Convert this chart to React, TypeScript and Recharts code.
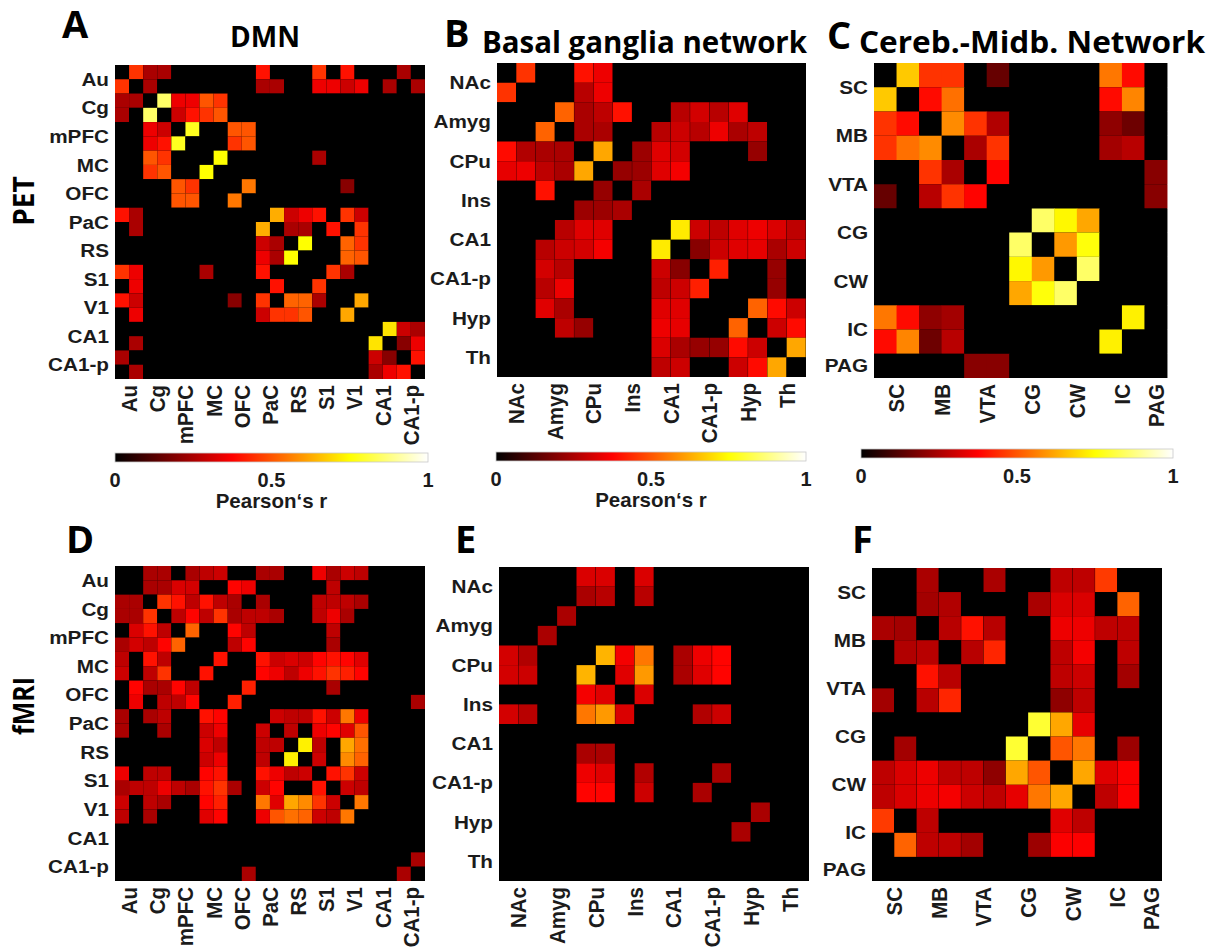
import { BarChart, Bar, Cell, XAxis, YAxis, CartesianGrid } from "recharts"

// Regions of each network. Every region has a left and a right cell, except PAG (midline).
const DMN_REGIONS = ["Au", "Cg", "mPFC", "MC", "OFC", "PaC", "RS", "S1", "V1", "CA1", "CA1-p"]
const DMN_CELLS = [2, 2, 2, 2, 2, 2, 2, 2, 2, 2, 2]
const BG_REGIONS = ["NAc", "Amyg", "CPu", "Ins", "CA1", "CA1-p", "Hyp", "Th"]
const BG_CELLS = [2, 2, 2, 2, 2, 2, 2, 2]
const CM_REGIONS = ["SC", "MB", "VTA", "CG", "CW", "IC", "PAG"]
const CM_CELLS = [2, 2, 2, 2, 2, 2, 1]

const COLORBAR_TICKS = [0, 0.5, 1]

// Pearson's r x 100 (thresholded matrices, 0 = not shown)
const PET_DMN = [
  [0, 45, 25, 25, 0, 0, 0, 0, 0, 0, 40, 0, 0, 0, 45, 0, 40, 0, 0, 0, 25, 0],
  [45, 0, 25, 0, 0, 0, 0, 0, 0, 0, 25, 25, 0, 0, 35, 35, 30, 35, 0, 25, 0, 25],
  [25, 25, 0, 85, 35, 35, 50, 45, 0, 0, 0, 0, 0, 0, 0, 0, 0, 0, 0, 0, 0, 0],
  [25, 0, 85, 0, 30, 40, 45, 50, 0, 0, 0, 0, 0, 0, 0, 0, 0, 0, 0, 0, 0, 0],
  [0, 0, 35, 30, 0, 78, 0, 0, 50, 50, 0, 0, 0, 0, 0, 0, 0, 0, 0, 0, 0, 0],
  [0, 0, 35, 40, 78, 0, 0, 0, 45, 50, 0, 0, 0, 0, 0, 0, 0, 0, 0, 0, 0, 0],
  [0, 0, 50, 45, 0, 0, 0, 75, 0, 0, 0, 0, 0, 0, 25, 0, 0, 0, 0, 0, 0, 0],
  [0, 0, 45, 50, 0, 0, 75, 0, 0, 0, 0, 0, 0, 0, 0, 0, 0, 0, 0, 0, 0, 0],
  [0, 0, 0, 0, 50, 45, 0, 0, 0, 55, 0, 0, 0, 0, 0, 0, 20, 0, 0, 0, 0, 0],
  [0, 0, 0, 0, 50, 50, 0, 0, 55, 0, 0, 0, 0, 0, 0, 0, 0, 0, 0, 0, 0, 0],
  [40, 25, 0, 0, 0, 0, 0, 0, 0, 0, 0, 63, 30, 35, 40, 0, 45, 30, 0, 0, 0, 0],
  [0, 25, 0, 0, 0, 0, 0, 0, 0, 0, 63, 0, 25, 25, 0, 40, 0, 45, 0, 0, 0, 0],
  [0, 0, 0, 0, 0, 0, 0, 0, 0, 0, 30, 25, 0, 75, 0, 0, 52, 45, 0, 0, 0, 0],
  [0, 0, 0, 0, 0, 0, 0, 0, 0, 0, 35, 25, 75, 0, 0, 0, 52, 50, 0, 0, 0, 0],
  [45, 35, 0, 0, 0, 0, 25, 0, 0, 0, 40, 0, 0, 0, 0, 45, 25, 0, 0, 0, 0, 0],
  [0, 35, 0, 0, 0, 0, 0, 0, 0, 0, 0, 40, 0, 0, 45, 0, 0, 0, 0, 0, 0, 0],
  [40, 30, 0, 0, 0, 0, 0, 0, 20, 0, 45, 0, 52, 52, 25, 0, 0, 62, 0, 0, 0, 0],
  [0, 35, 0, 0, 0, 0, 0, 0, 0, 0, 30, 45, 45, 50, 0, 0, 62, 0, 0, 0, 0, 0],
  [0, 0, 0, 0, 0, 0, 0, 0, 0, 0, 0, 0, 0, 0, 0, 0, 0, 0, 0, 71, 30, 25],
  [0, 25, 0, 0, 0, 0, 0, 0, 0, 0, 0, 0, 0, 0, 0, 0, 0, 0, 71, 0, 20, 35],
  [25, 0, 0, 0, 0, 0, 0, 0, 0, 0, 0, 0, 0, 0, 0, 0, 0, 0, 30, 20, 0, 40],
  [0, 25, 0, 0, 0, 0, 0, 0, 0, 0, 0, 0, 0, 0, 0, 0, 0, 0, 25, 35, 40, 0],
]

const PET_BG = [
  [0, 45, 0, 0, 40, 35, 0, 0, 0, 0, 0, 0, 0, 0, 0, 0],
  [45, 0, 0, 0, 27, 35, 0, 0, 0, 0, 0, 0, 0, 0, 0, 0],
  [0, 0, 0, 52, 25, 28, 40, 0, 0, 27, 31, 27, 33, 0, 0, 0],
  [0, 0, 52, 0, 25, 25, 0, 0, 27, 30, 27, 35, 25, 28, 0, 0],
  [39, 26, 25, 25, 0, 62, 0, 23, 33, 31, 0, 0, 0, 22, 0, 0],
  [34, 35, 28, 25, 62, 0, 22, 23, 33, 36, 0, 0, 0, 0, 0, 0],
  [0, 0, 40, 0, 0, 22, 0, 25, 0, 0, 0, 0, 0, 0, 0, 0],
  [0, 0, 0, 0, 23, 23, 25, 0, 0, 0, 0, 0, 0, 0, 0, 0],
  [0, 0, 0, 27, 33, 33, 0, 0, 0, 72, 30, 28, 33, 35, 32, 28],
  [0, 0, 27, 30, 31, 36, 0, 0, 72, 0, 20, 30, 33, 34, 25, 30],
  [0, 0, 31, 27, 0, 0, 0, 0, 30, 20, 0, 42, 0, 0, 22, 0],
  [0, 0, 27, 35, 0, 0, 0, 0, 28, 30, 42, 0, 0, 0, 22, 0],
  [0, 0, 33, 25, 0, 0, 0, 0, 33, 33, 0, 0, 0, 52, 39, 30],
  [0, 0, 0, 28, 22, 0, 0, 0, 35, 34, 0, 0, 52, 0, 30, 39],
  [0, 0, 0, 0, 0, 0, 0, 0, 32, 25, 22, 22, 39, 30, 0, 62],
  [0, 0, 0, 0, 0, 0, 0, 0, 28, 30, 0, 0, 30, 39, 62, 0],
]

const PET_CM = [
  [0, 67, 45, 45, 0, 15, 0, 0, 0, 0, 55, 39, 0],
  [67, 0, 39, 54, 0, 0, 0, 0, 0, 0, 39, 57, 0],
  [45, 39, 0, 58, 45, 26, 0, 0, 0, 0, 21, 16, 0],
  [45, 54, 58, 0, 25, 45, 0, 0, 0, 0, 24, 27, 0],
  [0, 0, 45, 25, 0, 38, 0, 0, 0, 0, 0, 0, 20],
  [15, 0, 27, 45, 38, 0, 0, 0, 0, 0, 0, 0, 20],
  [0, 0, 0, 0, 0, 0, 0, 85, 74, 62, 0, 0, 0],
  [0, 0, 0, 0, 0, 0, 85, 0, 60, 76, 0, 0, 0],
  [0, 0, 0, 0, 0, 0, 74, 60, 0, 85, 0, 0, 0],
  [0, 0, 0, 0, 0, 0, 62, 76, 85, 0, 0, 0, 0],
  [55, 39, 21, 24, 0, 0, 0, 0, 0, 0, 0, 73, 0],
  [39, 57, 16, 27, 0, 0, 0, 0, 0, 0, 73, 0, 0],
  [0, 0, 0, 0, 20, 20, 0, 0, 0, 0, 0, 0, 0],
]

const FMRI_DMN = [
  [0, 0, 25, 25, 0, 25, 28, 30, 0, 0, 25, 25, 0, 0, 35, 25, 30, 28, 0, 0, 0, 0],
  [0, 0, 25, 25, 32, 31, 0, 0, 38, 35, 0, 0, 0, 0, 0, 28, 0, 0, 0, 0, 0, 0],
  [25, 25, 0, 45, 40, 28, 40, 28, 25, 0, 25, 0, 0, 0, 28, 28, 28, 25, 0, 0, 0, 0],
  [25, 25, 45, 0, 28, 38, 28, 45, 25, 28, 28, 25, 0, 0, 28, 35, 25, 0, 0, 0, 0, 0],
  [0, 32, 40, 28, 0, 52, 0, 0, 38, 28, 0, 0, 0, 0, 0, 28, 0, 0, 0, 0, 0, 0],
  [25, 31, 28, 38, 52, 0, 0, 0, 28, 38, 0, 0, 0, 0, 0, 25, 0, 0, 0, 0, 0, 0],
  [28, 0, 40, 28, 0, 0, 0, 40, 0, 0, 40, 30, 32, 30, 38, 40, 38, 33, 0, 0, 0, 0],
  [30, 0, 28, 45, 0, 0, 40, 0, 0, 0, 38, 35, 28, 35, 40, 45, 42, 38, 0, 0, 0, 0],
  [0, 38, 25, 25, 38, 28, 0, 0, 0, 42, 0, 0, 0, 0, 0, 25, 0, 0, 0, 0, 0, 0],
  [0, 35, 0, 28, 28, 38, 0, 0, 42, 0, 0, 0, 0, 0, 0, 0, 0, 0, 0, 0, 0, 25],
  [25, 0, 25, 28, 0, 0, 40, 38, 0, 0, 0, 30, 28, 28, 40, 30, 55, 35, 0, 0, 0, 0],
  [25, 0, 0, 25, 0, 0, 30, 35, 0, 0, 30, 0, 28, 0, 35, 38, 33, 50, 0, 0, 0, 0],
  [0, 0, 0, 0, 0, 0, 32, 28, 0, 0, 28, 28, 0, 73, 28, 0, 62, 54, 0, 0, 0, 0],
  [0, 0, 0, 0, 0, 0, 30, 35, 0, 0, 28, 0, 73, 0, 30, 0, 58, 52, 0, 0, 0, 0],
  [35, 0, 28, 28, 0, 0, 38, 40, 0, 0, 40, 35, 28, 30, 0, 40, 45, 30, 0, 0, 0, 0],
  [25, 28, 28, 35, 28, 25, 40, 45, 25, 0, 30, 38, 0, 0, 40, 0, 30, 28, 0, 0, 0, 0],
  [30, 0, 28, 25, 0, 0, 38, 42, 0, 0, 55, 33, 62, 58, 45, 30, 0, 55, 0, 0, 0, 0],
  [28, 0, 25, 0, 0, 0, 33, 38, 0, 0, 35, 50, 54, 52, 30, 28, 55, 0, 0, 0, 0, 0],
  [0, 0, 0, 0, 0, 0, 0, 0, 0, 0, 0, 0, 0, 0, 0, 0, 0, 0, 0, 0, 0, 0],
  [0, 0, 0, 0, 0, 0, 0, 0, 0, 0, 0, 0, 0, 0, 0, 0, 0, 0, 0, 0, 0, 0],
  [0, 0, 0, 0, 0, 0, 0, 0, 0, 0, 0, 0, 0, 0, 0, 0, 0, 0, 0, 0, 0, 25],
  [0, 0, 0, 0, 0, 0, 0, 0, 0, 25, 0, 0, 0, 0, 0, 0, 0, 0, 0, 0, 25, 0],
]

const FMRI_BG = [
  [0, 0, 0, 0, 32, 32, 0, 32, 0, 0, 0, 0, 0, 0, 0, 0],
  [0, 0, 0, 0, 25, 27, 0, 27, 0, 0, 0, 0, 0, 0, 0, 0],
  [0, 0, 0, 25, 0, 0, 0, 0, 0, 0, 0, 0, 0, 0, 0, 0],
  [0, 0, 25, 0, 0, 0, 0, 0, 0, 0, 0, 0, 0, 0, 0, 0],
  [31, 26, 0, 0, 0, 64, 36, 55, 0, 25, 35, 38, 0, 0, 0, 0],
  [31, 30, 0, 0, 64, 0, 33, 60, 0, 25, 33, 38, 0, 0, 0, 0],
  [0, 0, 0, 0, 36, 33, 0, 32, 0, 0, 0, 0, 0, 0, 0, 0],
  [31, 27, 0, 0, 55, 60, 32, 0, 0, 0, 26, 30, 0, 0, 0, 0],
  [0, 0, 0, 0, 0, 0, 0, 0, 0, 0, 0, 0, 0, 0, 0, 0],
  [0, 0, 0, 0, 25, 25, 0, 0, 0, 0, 0, 0, 0, 0, 0, 0],
  [0, 0, 0, 0, 35, 33, 0, 26, 0, 0, 0, 25, 0, 0, 0, 0],
  [0, 0, 0, 0, 38, 38, 0, 30, 0, 0, 25, 0, 0, 0, 0, 0],
  [0, 0, 0, 0, 0, 0, 0, 0, 0, 0, 0, 0, 0, 25, 0, 0],
  [0, 0, 0, 0, 0, 0, 0, 0, 0, 0, 0, 0, 25, 0, 0, 0],
  [0, 0, 0, 0, 0, 0, 0, 0, 0, 0, 0, 0, 0, 0, 0, 0],
  [0, 0, 0, 0, 0, 0, 0, 0, 0, 0, 0, 0, 0, 0, 0, 0],
]

const FMRI_CM = [
  [0, 0, 25, 0, 0, 25, 0, 0, 28, 28, 46, 0, 0],
  [0, 0, 24, 26, 0, 0, 0, 25, 32, 32, 0, 52, 0],
  [25, 24, 0, 27, 40, 27, 0, 0, 35, 35, 28, 28, 0],
  [0, 26, 27, 0, 27, 43, 0, 0, 28, 36, 0, 28, 0],
  [0, 0, 40, 27, 0, 0, 0, 0, 28, 30, 0, 24, 0],
  [24, 0, 27, 43, 0, 0, 0, 0, 21, 28, 0, 0, 0],
  [0, 0, 0, 0, 0, 0, 0, 80, 62, 34, 0, 0, 0],
  [0, 24, 0, 0, 0, 0, 80, 0, 50, 55, 0, 23, 0],
  [28, 32, 35, 28, 28, 21, 62, 50, 0, 62, 33, 37, 0],
  [28, 32, 35, 36, 30, 28, 34, 55, 62, 0, 28, 37, 0],
  [46, 0, 28, 0, 0, 0, 0, 0, 33, 28, 0, 0, 0],
  [0, 52, 28, 28, 24, 0, 0, 23, 37, 37, 0, 0, 0],
  [0, 0, 0, 0, 0, 0, 0, 0, 0, 0, 0, 0, 0],
]

const LABEL_FONT = "'Liberation Sans', Arial, sans-serif"
const TITLE_FONT = "'Open Sans', 'DejaVu Sans', sans-serif"
const INK = "#1b1b1b"

const clamp = (t: number) => Math.max(0, Math.min(1, t))

// MATLAB "hot": black -> red -> yellow -> white
function hot(v: number) {
  const r = clamp(v / 0.375)
  const g = clamp((v - 0.375) / 0.375)
  const b = clamp((v - 0.75) / 0.25)
  return `rgb(${Math.round(r * 255)},${Math.round(g * 255)},${Math.round(b * 255)})`
}

type HeatmapProps = {
  matrix: number[][]
  regions: string[]
  cells: number[]
  left: number
  top: number
  plotW: number
  plotH: number
}

const YW = 110
const XH = 80
const PAD = 2

function Heatmap({ matrix, regions, cells, left, top, plotW, plotH }: HeatmapProps) {
  const n = matrix.length
  const rowKeys = matrix.map((_, i) => `r${i}`)
  // one entry per column, every row stacked as a unit-height block
  const data = matrix[0].map((_, j) => {
    const d: Record<string, number> = { col: j }
    rowKeys.forEach((k) => (d[k] = 1))
    return d
  })

  const centers: number[] = []
  const names = new Map<number, string>()
  let start = 0
  cells.forEach((c, k) => {
    centers.push(start + c / 2)
    names.set(start + c / 2, regions[k])
    start += c
  })

  const yTick = (p: any) => (
    <text
      transform={`translate(${p.x},${p.y}) scale(1.12,1)`}
      textAnchor="end"
      dominantBaseline="central"
      fontFamily={LABEL_FONT}
      fontWeight={700}
      fontSize={18.5}
      fill={INK}
    >
      {names.get(p.payload.value)}
    </text>
  )

  const xTick = (p: any) => (
    <text
      transform={`translate(${p.x},${p.y}) scale(1.12,1) rotate(-90)`}
      textAnchor="end"
      dominantBaseline="central"
      fontFamily={LABEL_FONT}
      fontWeight={700}
      fontSize={20.5}
      fill={INK}
    >
      {names.get(p.payload.value)}
    </text>
  )

  return (
    <div style={{ position: "absolute", left: left - YW, top: top - PAD }}>
      <BarChart
        width={YW + plotW + PAD}
        height={PAD + plotH + XH}
        data={data}
        margin={{ top: PAD, right: PAD, bottom: 0, left: 0 }}
        barCategoryGap={0}
        barGap={0}
      >
        <CartesianGrid fill="#000" horizontal={false} vertical={false} />
        <XAxis dataKey="col" hide height={0} />
        <XAxis
          xAxisId="lab"
          dataKey="col"
          type="number"
          domain={[0, n]}
          ticks={centers}
          interval={0}
          height={XH}
          axisLine={false}
          tickLine={false}
          tickSize={0}
          tickMargin={6}
          allowDataOverflow
          tick={xTick}
        />
        <YAxis
          type="number"
          domain={[0, n]}
          reversed
          ticks={centers}
          interval={0}
          width={YW}
          axisLine={false}
          tickLine={false}
          tickSize={0}
          tickMargin={6}
          allowDataOverflow
          tick={yTick}
        />
        {rowKeys.map((k, i) => (
          <Bar key={k} dataKey={k} stackId="m" isAnimationActive={false}>
            {matrix[i].map((v, j) => (
              <Cell key={j} fill={hot(v / 100)} />
            ))}
          </Bar>
        ))}
      </BarChart>
    </div>
  )
}

function ColorBar({ x, y, w, h, caption }: { x: number; y: number; w: number; h: number; caption?: string }) {
  return (
    <g>
      <rect x={x} y={y} width={w} height={h} fill="url(#hotGrad)" stroke="#c8c8c8" strokeWidth={0.8} />
      {COLORBAR_TICKS.map((t) => (
        <text
          key={t}
          x={x + t * w}
          y={y + h + 25}
          textAnchor="middle"
          fontFamily={LABEL_FONT}
          fontWeight={700}
          fontSize={20}
          fill={INK}
        >
          {t}
        </text>
      ))}
      {caption && (
        <text
          x={x + w / 2}
          y={y + h + 46}
          textAnchor="middle"
          fontFamily={LABEL_FONT}
          fontWeight={700}
          fontSize={20.5}
          fill={INK}
        >
          {caption}
        </text>
      )}
    </g>
  )
}

const letterStyle = { fontFamily: TITLE_FONT, fontWeight: 700, fontSize: 38, fill: "#000" }
const titleStyle = { fontFamily: TITLE_FONT, fontWeight: 700, fill: "#000" }

export default function App() {
  return (
    <div style={{ position: "absolute", left: 0, top: 0, width: 1208, height: 949, background: "#fff", overflow: "hidden" }}>
      <svg width={1208} height={949} style={{ position: "absolute", left: 0, top: 0 }}>
        <defs>
          <linearGradient id="hotGrad" x1="0" x2="1" y1="0" y2="0">
            <stop offset="0" stopColor={hot(0)} />
            <stop offset="0.375" stopColor={hot(0.375)} />
            <stop offset="0.75" stopColor={hot(0.75)} />
            <stop offset="1" stopColor={hot(1)} />
          </linearGradient>
        </defs>

        <text x={62} y={38} {...letterStyle}>A</text>
        <text x={444} y={47} {...letterStyle}>B</text>
        <text x={827} y={49} {...letterStyle}>C</text>
        <text x={66} y={553} {...letterStyle}>D</text>
        <text x={455} y={553} {...letterStyle}>E</text>
        <text x={852} y={553} {...letterStyle}>F</text>

        <text x={230} y={47} fontSize={28} textLength={70} lengthAdjust="spacingAndGlyphs" {...titleStyle}>DMN</text>
        <text x={482} y={53} fontSize={31} textLength={325} lengthAdjust="spacingAndGlyphs" {...titleStyle}>
          Basal ganglia network
        </text>
        <text x={859} y={53} fontSize={31} textLength={346} lengthAdjust="spacingAndGlyphs" {...titleStyle}>
          Cereb.-Midb. Network
        </text>

        <text transform="translate(34,201) rotate(-90)" textAnchor="middle" fontSize={28} {...titleStyle}>PET</text>
        <text transform="translate(34,706) rotate(-90)" textAnchor="middle" fontSize={28} textLength={58} lengthAdjust="spacingAndGlyphs" {...titleStyle}>
          fMRI
        </text>

        <ColorBar x={115} y={453} w={313} h={9} caption="Pearson‘s r" />
        <ColorBar x={496} y={452} w={310} h={9} caption="Pearson‘s r" />
        <ColorBar x={861} y={449} w={312} h={9} />
      </svg>

      <Heatmap matrix={PET_DMN} regions={DMN_REGIONS} cells={DMN_CELLS} left={115} top={65} plotW={310} plotH={314} />
      <Heatmap matrix={PET_BG} regions={BG_REGIONS} cells={BG_CELLS} left={497} top={63} plotW={309} plotH={314} />
      <Heatmap matrix={PET_CM} regions={CM_REGIONS} cells={CM_CELLS} left={874} top={63} plotW={293} plotH={315} />
      <Heatmap matrix={FMRI_DMN} regions={DMN_REGIONS} cells={DMN_CELLS} left={115} top={566} plotW={310} plotH={315} />
      <Heatmap matrix={FMRI_BG} regions={BG_REGIONS} cells={BG_CELLS} left={499} top={567} plotW={310} plotH={314} />
      <Heatmap matrix={FMRI_CM} regions={CM_REGIONS} cells={CM_CELLS} left={872} top={568} plotW={290} plotH={313} />
    </div>
  )
}
